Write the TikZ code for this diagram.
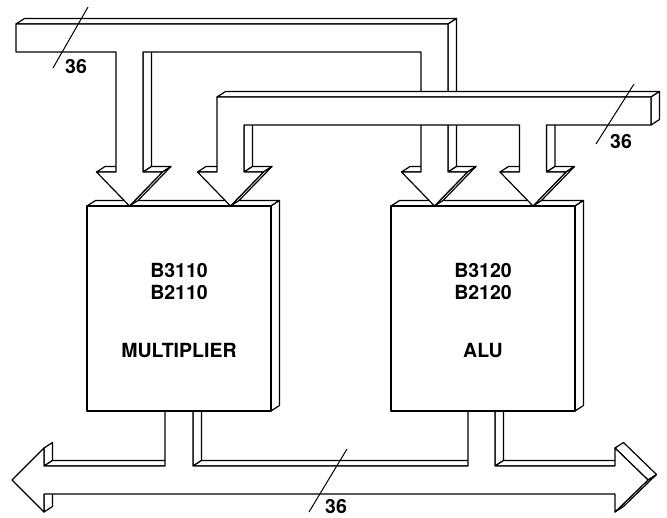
\documentclass[tikz,border=0pt]{standalone}
\usepackage{fontspec}
\setmainfont{TeX Gyre Heros}
\usepackage{tikz}
\usetikzlibrary{calc}
\tikzstyle{slab} = [draw=black, fill=white, line width=1.2pt, line join=round]
\tikzstyle{chiptext} = [font=\bfseries\fontsize{19.5}{21}\selectfont, anchor=base, inner sep=0pt]
\tikzstyle{buswidth} = [line width=1pt]
% flat outline pushed back by (8.5,-5.5): seen side faces, then front face
\newcommand{\extrudeshape}[3]{%
  \foreach \x/\y [remember=\x as \px (initially #1), remember=\y as \py (initially #2)] in {#3} {
    \pgfmathparse{8.5*(\y-\py)+5.5*(\x-\px)}
    \ifdim\pgfmathresult pt>0pt
      \filldraw[slab] (\px,\py) -- (\x,\y) -- (\x+8.5,\y-5.5) -- (\px+8.5,\py-5.5) -- cycle;
    \fi
  }
  \filldraw[slab] (#1,#2) \foreach \x/\y in {#3} { -- (\x,\y) } -- cycle;
}

\begin{document}
\begin{tikzpicture}[x=1pt, y=-1pt]
\fill[white] (0,0) rectangle (667,517);
\useasboundingbox (0,0) rectangle (667,517);

% output bus
\extrudeshape{12}{480}{44/448, 44/466, 165/466, 165/400, 193/400, 193/466, 468/466, 468/400, 495/400, 495/466, 615/466, 615/448, 648/480, 615/512, 615/494, 44/494, 44/512, 12/480}

% multiplier and alu
\extrudeshape{87}{206}{271/206, 271/411, 87/411, 87/206}
\extrudeshape{391}{206}{575/206, 575/411, 391/411, 391/206}
\node[chiptext] (multa) at (179,277) {B3110};
\node[chiptext] (multb) at (179,299) {B2110};
\node[chiptext] (mult) at (179,357) {MULTIPLIER};
\node[chiptext] (alua) at (483,277) {B3120};
\node[chiptext] (alub) at (483,299) {B2120};
\node[chiptext] (alu) at (483,357) {ALU};

% input bus from the left
\extrudeshape{16}{24}{448/24, 448/172, 467.5/172, 434.5/206, 401.5/172, 421/172, 421/52, 143/52, 143/172, 162.5/172, 129.5/206, 96.5/172, 116/172, 116/52, 16/52, 16/24}

% input bus from the right
\extrudeshape{217}{97}{651/97, 651/125, 546.5/125, 546.5/172, 566/172, 533/206, 500/172, 519.5/172, 519.5/125, 244/125, 244/172, 263.5/172, 230.5/206, 197.5/172, 217/172, 217/97}

% bus widths
\draw[buswidth] (88,7) -- (53,68);
\node[chiptext] (wa) at (76,73) {36};
\draw[buswidth] (634,84) -- (596,144);
\node[chiptext] (wb) at (621,148) {36};
\draw[buswidth] (347,449) -- (309,512);
\node[chiptext] (wc) at (336,513) {36};
\end{tikzpicture}
\end{document}
